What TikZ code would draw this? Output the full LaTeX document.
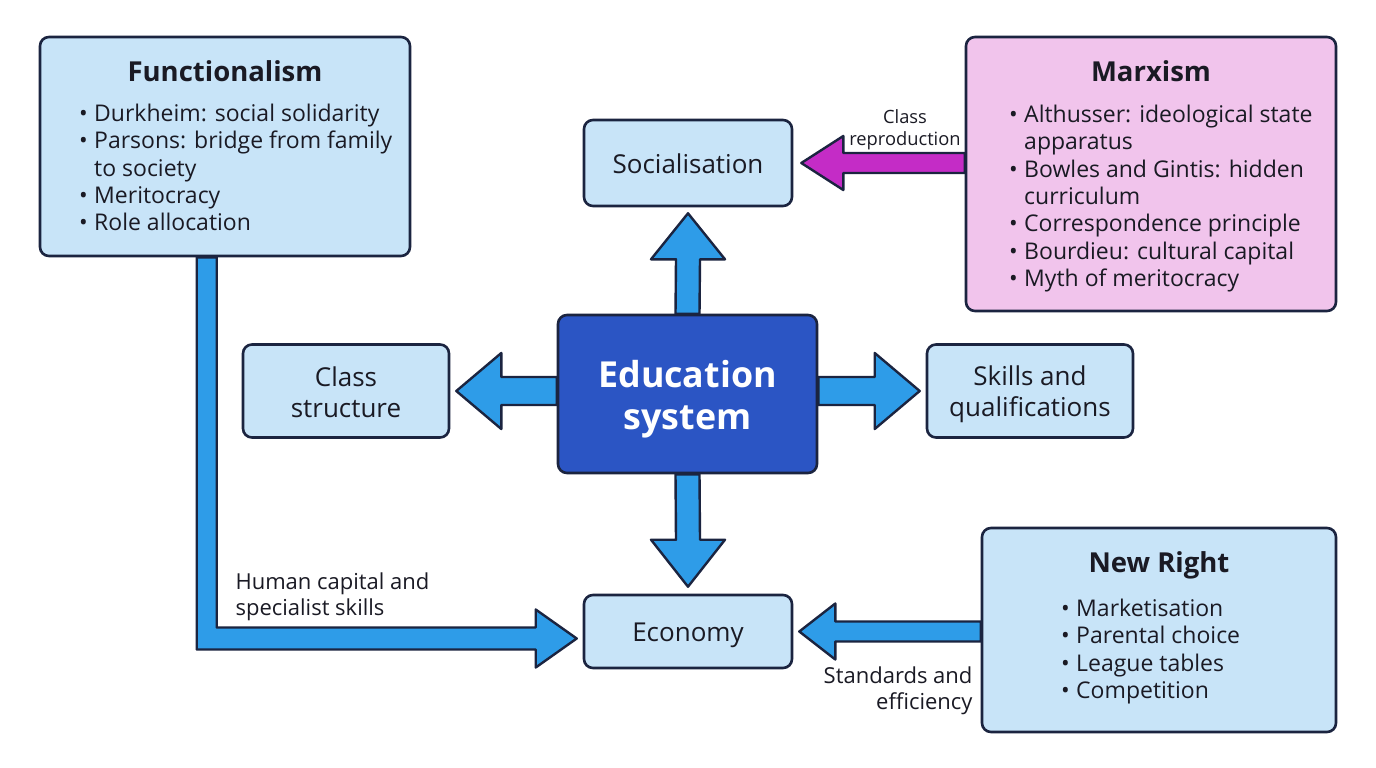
\documentclass[tikz,border=0pt]{standalone}
\usepackage{fontspec}
\setmainfont{Open Sans}
\usetikzlibrary{calc,backgrounds}
\definecolor{navy}{HTML}{1B2440}
\definecolor{lblue}{HTML}{C8E4F8}
\definecolor{pinkbox}{HTML}{F1C4EC}
\definecolor{ablue}{HTML}{2E9CE8}
\definecolor{eblue}{HTML}{2B55C4}
\definecolor{magen}{HTML}{C42CC6}
\definecolor{txt}{HTML}{1A1A24}
\newcommand{\bul}{\makebox[15pt][l]{\textbullet}}
\newcommand{\ind}{\hspace*{15pt}}
\newcommand{\bs}{\rule[-5pt]{0pt}{31pt}}
\tikzset{
  box/.style={draw=navy, line width=2.6pt, rounded corners=9pt, fill=lblue},
  pbox/.style={box, fill=pinkbox},
  ebox/.style={box, fill=eblue},
  etxt/.style={text=white, font=\bfseries\fontsize{35.8}{42}\selectfont, align=center},
  lbl/.style={text=txt, font=\fontsize{26}{31}\selectfont, align=center},
  ttl/.style={text=txt, font=\bfseries\fontsize{27.5}{32}\selectfont},
  lst/.style={text=txt, font=\fontsize{23}{27.3}\selectfont, align=left, inner sep=0pt, anchor=north west},
  small/.style={text=txt, font=\fontsize{22}{26}\selectfont},
  barrow/.style={fill=ablue, draw=navy, line width=2.4pt, line join=round},
  marrow/.style={barrow, fill=magen}
}
\begin{document}
\begin{tikzpicture}[x=1pt,y=-1pt]
\useasboundingbox (0,0) rectangle (1376,768);
% boxes
\node[box, minimum width=370pt, minimum height=219pt] (func) at (225,146.5) {};
\node[pbox, minimum width=370pt, minimum height=274pt] (marx) at (1151,174) {};
\node[box, minimum width=354pt, minimum height=204pt] (nr) at (1159,630) {};
\node[box, lbl, minimum width=208pt, minimum height=86pt] (soc) at (688,163) {\bs Socialisation};
\node[box, lbl, minimum width=206pt, minimum height=93pt] (cls) at (346,391) {\bs Class\\\bs structure};
\node[box, lbl, minimum width=206pt, minimum height=93pt] (skl) at (1030,391) {\bs Skills and\\\bs qualifications};
\node[box, lbl, minimum width=208pt, minimum height=73pt] (eco) at (688,631.5) {\bs Economy};
\node[ebox, minimum width=259pt, minimum height=158pt] (edu) at (687.5,394) {};
\node[etxt] (edut) at (687.5,399) {Education\\system};
% titles and lists
\node[ttl] (functtl) at (225,71) {Functionalism};
\node[lst] (funclst) at (79,104) {\bul Durkheim: social solidarity\\\bul Parsons: bridge from family\\\ind to society\\\bul Meritocracy\\\bul Role allocation};
\node[ttl] (marxttl) at (1151,71) {Marxism};
\node[lst] (marxlst) at (1009,105) {\bul Althusser: ideological state\\\ind apparatus\\\bul Bowles and Gintis: hidden\\\ind curriculum\\\bul Correspondence principle\\\bul Bourdieu: cultural capital\\\bul Myth of meritocracy};
\node[ttl] (nrttl) at (1159,565) {New Right};
\node[lst] (nrlst) at (1061,599) {\bul Marketisation\\\bul Parental choice\\\bul League tables\\\bul Competition};
% connector labels
\node[small, align=center, font=\fontsize{18.3}{22}\selectfont] (lcr) at (905,130) {Class\\reproduction};
\node[small, align=left, anchor=west] (lhc) at (232,597) {Human capital and\\specialist skills};
\node[small, align=right, anchor=east] (lse) at (976,691) {Standards and\\efficiency};
% helper coordinates
\coordinate (fa) at ($(func.south west)+(158,0)$);
\coordinate (fb) at ($(func.south west)+(178,0)$);
\coordinate (ea) at ($(eco.west)+(0,18)$);
\coordinate (eb) at ($(eco.west)+(0,-4)$);
% arrows
\begin{scope}[on background layer]
\fill[white] (0,0) rectangle (1376,768);
\draw[barrow] ($(edu.north)+(-12,0)$) -- ($(soc.south)+(-12,52)$) -- ($(soc.south)+(-37,52)$) -- ($(soc.south)+(0,6)$) -- ($(soc.south)+(37,52)$) -- ($(soc.south)+(12,52)$) -- ($(edu.north)+(12,0)$) -- cycle;
\draw[barrow] ($(edu.south)+(-12,0)$) -- ($(eco.north)+(-12,-54)$) -- ($(eco.north)+(-37,-54)$) -- ($(eco.north)+(0,-7)$) -- ($(eco.north)+(37,-54)$) -- ($(eco.north)+(12,-54)$) -- ($(edu.south)+(12,0)$) -- cycle;
\draw[barrow] ($(cls.east -| edu.west)+(0,-14)$) -- ($(cls.east)+(51,-14)$) -- ($(cls.east)+(51,-38)$) -- ($(cls.east)+(6,0)$) -- ($(cls.east)+(51,38)$) -- ($(cls.east)+(51,14)$) -- ($(cls.east -| edu.west)+(0,14)$) -- cycle;
\draw[barrow] ($(skl.west -| edu.east)+(0,-14)$) -- ($(skl.west)+(-51,-14)$) -- ($(skl.west)+(-51,-38)$) -- ($(skl.west)+(-6,0)$) -- ($(skl.west)+(-51,38)$) -- ($(skl.west)+(-51,14)$) -- ($(skl.west -| edu.east)+(0,14)$) -- cycle;
\draw[marrow] ($(soc.east -| marx.west)+(0,-10)$) -- ($(soc.east)+(50,-10)$) -- ($(soc.east)+(50,-27)$) -- ($(soc.east)+(8,0)$) -- ($(soc.east)+(50,27)$) -- ($(soc.east)+(50,10)$) -- ($(soc.east -| marx.west)+(0,10)$) -- cycle;
\draw[barrow] ($(eco.east -| nr.west)+(0,-10)$) -- ($(eco.east)+(42,-10)$) -- ($(eco.east)+(42,-28)$) -- ($(eco.east)+(6,0)$) -- ($(eco.east)+(42,28)$) -- ($(eco.east)+(42,10)$) -- ($(eco.east -| nr.west)+(0,10)$) -- cycle;
\draw[barrow] (fa) -- (fa |- ea) -- ($(eco.west)+(-47,18)$) -- ($(eco.west)+(-47,36)$) -- ($(eco.west)+(-6,7)$) -- ($(eco.west)+(-47,-22)$) -- ($(eco.west)+(-47,-4)$) -- (fb |- eb) -- (fb) -- cycle;
\end{scope}
\end{tikzpicture}
\end{document}
